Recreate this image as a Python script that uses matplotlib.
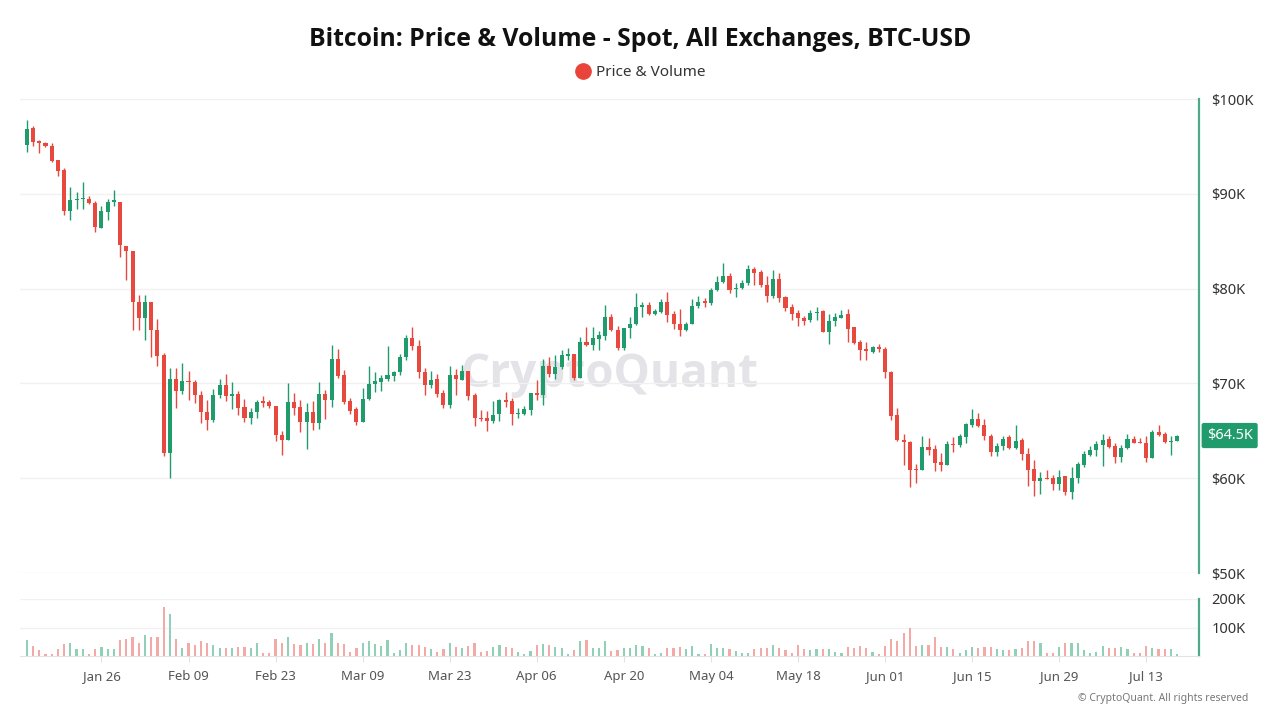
import numpy as np
import pandas as pd
import matplotlib
matplotlib.use("Agg")
import matplotlib.pyplot as plt
import matplotlib.dates as mdates
from matplotlib.lines import Line2D

plt.rcParams['font.family'] = ['Noto Sans', 'DejaVu Sans']

# daily candles, prices in thousands of USD
dates = pd.date_range("2026-01-14", periods=186, freq="D")

open_k = [
    95.2, 96.9, 95.6, 95.4, 95.0, 93.6, 92.5, 88.2, 89.3, 89.4,
    89.5, 89.0, 86.4, 88.1, 89.1, 89.1, 84.5, 84.0, 78.6, 76.9,
    78.6, 75.6, 73.0, 62.7, 70.5, 69.2, 70.3, 70.1, 68.8, 67.0,
    66.1, 68.8, 69.8, 68.7, 68.9, 67.5, 66.3, 67.0, 68.1, 68.0,
    67.6, 64.6, 64.0, 68.0, 67.5, 65.9, 67.0, 65.8, 68.9, 68.2,
    72.6, 70.9, 68.1, 67.3, 65.9, 68.4, 69.9, 70.2, 70.5, 70.8,
    71.2, 72.8, 74.8, 73.9, 71.2, 69.8, 70.5, 69.0, 67.7, 70.9,
    70.4, 71.3, 68.8, 66.4, 66.4, 66.0, 66.8, 68.2, 68.1, 66.8,
    66.8, 67.2, 69.0, 68.8, 71.8, 71.0, 71.7, 72.9, 73.1, 70.6,
    74.4, 74.0, 74.7, 75.0, 77.0, 75.6, 73.7, 75.8, 76.3, 78.1,
    78.3, 77.3, 77.5, 78.6, 77.3, 76.3, 75.6, 76.3, 78.2, 78.7,
    78.5, 79.8, 80.7, 81.3, 79.95, 80.1, 80.6, 82.1, 81.7, 80.4,
    79.2, 81.0, 79.1, 78.1, 77.4, 76.9, 76.7, 77.45, 77.6, 75.4,
    76.6, 76.9, 77.3, 76.0, 74.4, 73.6, 73.3, 73.8, 73.6, 71.2,
    66.7, 64.0, 63.8, 61.0, 60.9, 63.3, 63.1, 61.7, 61.4, 63.6,
    63.5, 64.3, 65.6, 66.2, 65.6, 64.5, 62.8, 63.4, 64.3, 63.2,
    64.0, 62.6, 61.0, 59.7, 60.0, 60.0, 59.4, 60.2, 58.5, 60.0,
    61.4, 62.4, 63.0, 63.5, 64.1, 63.4, 62.2, 63.2, 64.1, 63.8,
    63.7, 62.1, 64.9, 64.7, 63.8, 63.9,
]
high_k = [
    97.8, 97.1, 95.7, 95.5, 95.4, 93.6, 92.7, 90.7, 90.2, 91.2,
    89.8, 89.2, 88.7, 89.5, 90.4, 89.1, 84.5, 84.0, 79.3, 79.3,
    78.6, 76.8, 73.2, 71.6, 71.6, 72.2, 71.3, 70.4, 69.2, 68.3,
    69.4, 70.5, 71.0, 70.1, 69.2, 68.4, 67.4, 68.3, 68.7, 68.2,
    67.6, 65.0, 70.0, 69.0, 68.2, 67.9, 68.1, 70.1, 69.3, 74.1,
    73.6, 71.4, 68.5, 67.5, 69.5, 71.8, 71.2, 70.9, 73.9, 71.3,
    73.1, 75.1, 75.9, 74.6, 71.6, 71.3, 71.0, 69.3, 71.8, 71.5,
    71.9, 71.3, 69.0, 67.2, 67.1, 68.1, 68.4, 69.1, 68.5, 67.4,
    67.6, 69.0, 70.4, 72.6, 72.8, 73.0, 73.5, 73.7, 73.1, 74.9,
    76.0, 76.0, 75.5, 78.3, 77.3, 76.1, 75.8, 77.0, 79.5, 78.6,
    78.6, 77.8, 78.9, 79.6, 77.6, 77.8, 76.5, 78.9, 79.2, 79.0,
    80.1, 81.3, 82.7, 81.6, 80.6, 80.9, 82.5, 82.3, 82.0, 81.3,
    82.0, 81.6, 79.2, 78.4, 77.7, 77.1, 77.7, 78.1, 77.7, 77.3,
    77.4, 77.7, 77.9, 76.0, 74.6, 74.4, 73.9, 74.2, 73.8, 71.3,
    67.4, 64.7, 63.9, 61.5, 64.4, 64.2, 63.5, 62.7, 63.9, 64.3,
    64.7, 65.8, 67.3, 66.9, 66.2, 64.7, 63.7, 64.4, 64.6, 65.6,
    64.2, 63.2, 61.9, 60.7, 60.9, 60.3, 60.9, 60.2, 61.2, 61.7,
    62.9, 63.4, 63.9, 64.7, 64.4, 63.7, 63.5, 64.7, 64.4, 64.2,
    64.4, 65.1, 65.6, 64.9, 64.4, 64.6,
]
low_k = [
    94.4, 95.0, 94.3, 94.9, 93.4, 91.9, 87.8, 87.2, 88.4, 88.4,
    88.9, 86.0, 86.4, 87.2, 88.7, 83.3, 80.9, 75.6, 75.6, 74.6,
    72.8, 71.8, 62.3, 60.0, 67.4, 68.9, 68.3, 67.9, 65.8, 65.1,
    65.9, 68.5, 68.1, 67.3, 66.7, 65.9, 65.7, 66.4, 67.5, 67.4,
    63.9, 62.5, 64.0, 66.7, 64.9, 63.1, 65.1, 65.2, 66.2, 67.5,
    70.6, 67.8, 66.8, 65.6, 65.9, 68.3, 69.1, 69.2, 70.3, 70.3,
    70.9, 72.5, 73.5, 70.6, 68.8, 69.5, 68.6, 67.4, 67.4, 68.8,
    70.4, 68.2, 65.5, 66.0, 65.0, 65.8, 66.0, 67.5, 65.6, 66.3,
    66.7, 66.7, 68.2, 67.7, 70.7, 70.5, 71.5, 72.5, 70.4, 70.6,
    73.9, 73.5, 73.5, 74.6, 75.5, 73.5, 73.5, 74.8, 76.2, 77.0,
    77.2, 77.2, 77.4, 76.5, 75.7, 75.0, 75.5, 76.3, 78.0, 78.1,
    78.3, 79.7, 80.6, 79.5, 79.1, 80.0, 80.4, 80.4, 80.2, 78.6,
    79.0, 78.6, 77.6, 76.7, 76.1, 76.2, 76.5, 76.7, 75.4, 74.2,
    76.1, 76.9, 74.4, 74.2, 72.5, 72.5, 73.2, 73.3, 70.6, 66.1,
    63.9, 61.4, 59.1, 59.5, 60.9, 62.4, 60.8, 60.8, 61.4, 62.8,
    63.3, 63.7, 65.4, 65.4, 64.0, 62.3, 62.3, 63.0, 63.1, 63.1,
    61.9, 59.2, 58.1, 58.3, 59.9, 58.8, 58.8, 58.2, 57.8, 59.5,
    61.2, 62.3, 62.3, 61.3, 63.2, 61.6, 61.7, 63.1, 63.7, 63.7,
    61.7, 62.1, 64.4, 63.7, 62.4, 63.9,
]
close_k = [
    96.8, 95.5, 95.4, 95.0, 93.5, 92.4, 88.2, 89.3, 89.5, 89.5,
    89.0, 86.5, 88.2, 89.1, 89.3, 84.6, 84.0, 78.6, 76.9, 78.6,
    75.6, 72.9, 62.7, 70.5, 69.2, 70.3, 70.1, 68.8, 67.0, 66.1,
    68.8, 69.8, 68.7, 68.9, 67.4, 66.3, 67.0, 68.0, 67.9, 67.6,
    64.6, 64.0, 68.0, 67.4, 65.9, 67.0, 65.8, 68.9, 68.2, 72.6,
    70.8, 68.0, 67.1, 65.9, 68.4, 69.9, 70.3, 70.6, 70.9, 71.2,
    72.8, 74.8, 73.9, 71.2, 69.8, 70.4, 68.9, 67.7, 70.9, 70.5,
    71.3, 68.7, 66.4, 66.2, 66.0, 66.7, 68.2, 68.0, 66.8, 66.9,
    67.3, 69.0, 68.8, 71.8, 71.0, 71.7, 73.0, 73.1, 70.6, 74.4,
    74.0, 74.8, 75.1, 77.0, 75.6, 73.7, 75.8, 76.3, 78.1, 78.2,
    77.3, 77.6, 78.6, 77.2, 76.3, 75.6, 76.3, 78.2, 78.6, 78.5,
    79.8, 80.7, 81.3, 79.9, 80.1, 80.6, 82.1, 81.6, 80.4, 79.2,
    81.0, 79.0, 78.0, 77.3, 76.9, 76.6, 77.4, 77.55, 75.4, 76.6,
    77.0, 77.2, 75.7, 74.3, 73.5, 73.4, 73.8, 73.6, 71.2, 66.6,
    64.0, 63.8, 60.9, 60.9, 63.3, 63.0, 61.6, 61.4, 63.6, 63.5,
    64.4, 65.7, 66.2, 65.5, 64.4, 62.8, 63.4, 64.1, 63.2, 63.9,
    62.6, 60.9, 59.7, 60.0, 59.9, 59.4, 60.1, 58.5, 60.0, 61.5,
    62.5, 63.0, 63.6, 64.0, 63.3, 62.2, 63.2, 64.1, 63.75, 63.7,
    62.1, 64.9, 64.6, 63.8, 63.9, 64.5,
]
volume_k = [
    55, 35, 20, 6, 8, 24, 41, 44, 26, 26,
    8, 26, 32, 24, 26, 55, 59, 65, 47, 74,
    67, 67, 173, 149, 59, 29, 47, 39, 51, 44,
    39, 27, 27, 27, 32, 32, 27, 47, 12, 12,
    59, 45, 65, 41, 39, 44, 41, 59, 45, 79,
    47, 41, 15, 27, 47, 51, 41, 35, 55, 12,
    20, 47, 39, 39, 32, 24, 15, 24, 45, 32,
    29, 35, 47, 15, 18, 32, 39, 32, 29, 15,
    8, 18, 39, 41, 39, 32, 29, 8, 20, 51,
    55, 29, 29, 51, 18, 20, 29, 27, 39, 35,
    27, 8, 12, 29, 29, 32, 24, 35, 8, 8,
    41, 29, 29, 24, 18, 12, 12, 24, 27, 27,
    39, 27, 20, 12, 39, 24, 20, 24, 24, 24,
    15, 12, 32, 29, 35, 29, 15, 8, 35, 59,
    53, 82, 100, 35, 39, 39, 67, 32, 32, 24,
    12, 20, 32, 27, 32, 32, 24, 20, 20, 24,
    27, 53, 53, 44, 12, 12, 32, 44, 44, 44,
    20, 12, 15, 35, 29, 29, 32, 24, 12, 12,
    35, 29, 24, 24, 26, 6,
]

tick_dates = pd.date_range("2026-01-26", periods=13, freq="14D")
tick_labels = [d.strftime("%b %d") for d in tick_dates]

GREEN = "#1f9b6c"
RED = "#e8493f"
GREEN_V = "#8fd0b6"
RED_V = "#f3a9a5"
AXIS_GREEN = "#4fa887"

x = mdates.date2num(dates)
o = np.array(open_k)
h = np.array(high_k)
l = np.array(low_k)
c = np.array(close_k)
v = np.array(volume_k)
up = c >= o
colors = np.where(up, GREEN, RED)
vcolors = np.where(up, GREEN_V, RED_V)

fig = plt.figure(figsize=(12.8, 7.2), dpi=100)
ax = fig.add_axes([20 / 1280, 1 - 573 / 720, 1179 / 1280, 474 / 720])
axv = fig.add_axes([20 / 1280, 1 - 656 / 720, 1179 / 1280, 57 / 720], sharex=ax)

# candles
ax.vlines(x, l, h, colors=colors, linewidth=1, zorder=2)
ax.bar(x, np.maximum(np.abs(c - o), 0.12), bottom=np.minimum(o, c),
       width=0.65, color=colors, linewidth=0, zorder=3)

# volume
axv.bar(x, v, width=0.35, color=vcolors, linewidth=0, zorder=2)

left = x[0] - 1.1
right = x[0] + 188.5
ax.set_xlim(left, right)
ax.set_ylim(50, 100)
axv.set_ylim(0, 200)

for a in (ax, axv):
    a.yaxis.tick_right()
    a.grid(axis='y', color='#f1f1f1', linewidth=1, zorder=0)
    a.grid(axis='x', visible=False)
    for s in ('top', 'left', 'bottom'):
        a.spines[s].set_visible(False)
    a.spines['right'].set_color(AXIS_GREEN)
    a.spines['right'].set_linewidth(1.6)
    a.tick_params(axis='y', length=0, pad=9, labelsize=10.5, labelcolor='#333333')

ax.set_yticks([50, 60, 70, 80, 90, 100])
ax.set_yticklabels([f"${t}K" for t in [50, 60, 70, 80, 90, 100]])
ax.tick_params(axis='x', bottom=False, labelbottom=False)

axv.set_yticks([100, 200])
axv.set_yticklabels(["100K", "200K"])
axv.spines['bottom'].set_visible(True)
axv.spines['bottom'].set_color('#e3e3e3')
axv.set_xticks(mdates.date2num(tick_dates))
axv.set_xticklabels(tick_labels)
axv.tick_params(axis='x', length=4, color='#e3e3e3', labelsize=9.5,
                labelcolor='#555555', pad=6)

# watermark
ax.text(0.5, 0.418, "CryptoQuant", transform=ax.transAxes, ha='center',
        va='center', fontsize=33, fontweight='bold', family='Open Sans',
        color='#e3e3e8', zorder=1)

# last price tag
ax.text(1.026, c[-1], f"${c[-1]:.1f}K", transform=ax.get_yaxis_transform(),
        ha='center', va='center', fontsize=10.5, color='white', clip_on=False,
        bbox=dict(boxstyle='round,pad=0.35,rounding_size=0.15', fc=GREEN, ec='none'))

# title and legend
fig.text(0.5, 1 - 39 / 720, "Bitcoin: Price & Volume - Spot, All Exchanges, BTC-USD",
         ha='center', va='center', fontsize=17.8, fontweight='bold',
         family=['Open Sans', 'DejaVu Sans'], color='#111111')
fig.add_artist(Line2D([583 / 1280], [1 - 71 / 720], marker='o', markersize=11,
                      color='#e8443a', linestyle='none', transform=fig.transFigure))
fig.text(596 / 1280, 1 - 72 / 720, "Price & Volume", ha='left', va='center',
         fontsize=11, color='#333333')

fig.text(1248 / 1280, 1 - 698 / 720, "© CryptoQuant. All rights reserved",
         ha='right', va='center', fontsize=7.5, color='#777777')

fig.savefig("out.png", dpi=100, facecolor='white')
